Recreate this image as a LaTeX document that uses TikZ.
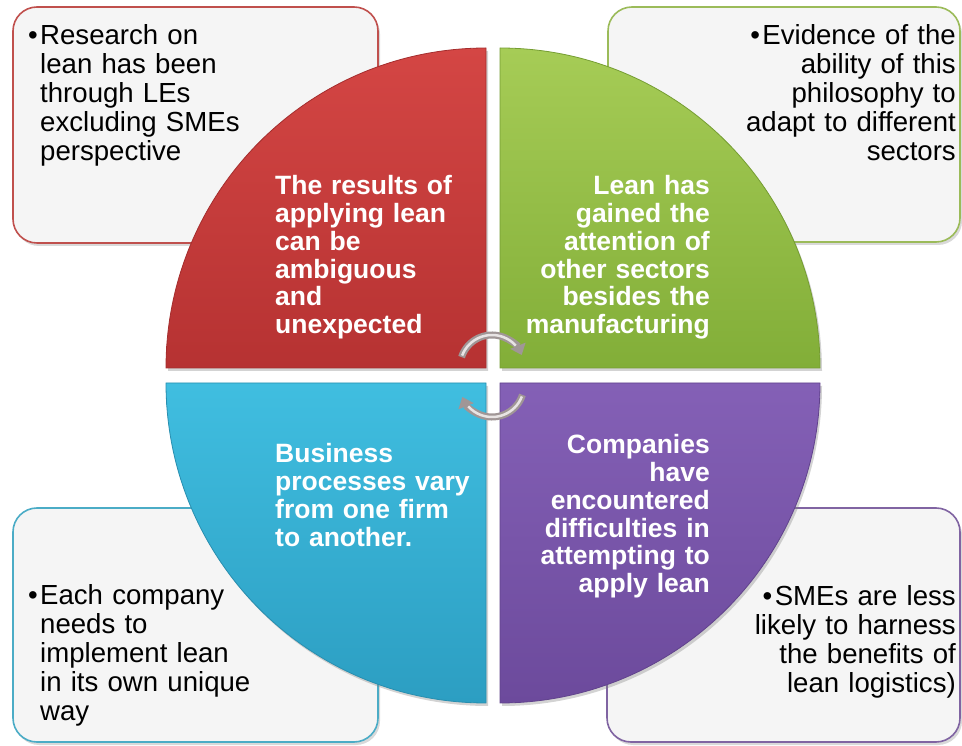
\documentclass[tikz,border=0pt]{standalone}
\usepackage{fontspec}
\setmainfont{Liberation Sans}
\usetikzlibrary{arrows.meta,shadows}

% palette
\definecolor{redTop}{RGB}{212,70,68}
\definecolor{redBot}{RGB}{182,50,50}
\definecolor{redEdge}{RGB}{192,80,77}
\definecolor{grnTop}{RGB}{166,204,86}
\definecolor{grnBot}{RGB}{130,174,56}
\definecolor{grnEdge}{RGB}{155,187,89}
\definecolor{bluTop}{RGB}{64,190,224}
\definecolor{bluBot}{RGB}{44,158,194}
\definecolor{bluEdge}{RGB}{75,172,198}
\definecolor{purTop}{RGB}{132,96,182}
\definecolor{purBot}{RGB}{108,74,156}
\definecolor{purEdge}{RGB}{128,100,162}
\definecolor{boxFill}{RGB}{245,245,245}
\definecolor{arrowDark}{RGB}{160,150,150}
\definecolor{arrowLight}{RGB}{232,228,228}

\tikzset{
  notebox/.style={fill=boxFill, line width=1.6pt, rounded corners=24pt,
    drop shadow={shadow xshift=2pt, shadow yshift=-3pt, opacity=.3}},
  quarter/.style={line width=0.8pt,
    drop shadow={shadow xshift=2pt, shadow yshift=-3pt, opacity=.35}},
  notetext/.style={inner sep=0pt, text width=340pt,
    font=\fontsize{27.6}{29}\selectfont},
  quartertext/.style={inner sep=0pt, text width=240pt, text=white,
    font=\fontsize{26.5}{27.7}\selectfont\bfseries},
  cyclearrow/.style={line width=7pt, draw=arrowDark,
    -{Triangle[width=16pt,length=10pt]}},
  cyclelight/.style={line width=2.5pt, draw=arrowLight}
}

\begin{document}
\begin{tikzpicture}[x=1pt,y=1pt]
  \useasboundingbox (0,0) rectangle (962,745);

  % outer note boxes
  \path[notebox, draw=redEdge] (13,502) rectangle (378,738);
  \path[notebox, draw=grnEdge] (608,503) rectangle (960,738);
  \path[notebox, draw=bluEdge] (13,3) rectangle (378,237);
  \path[notebox, draw=purEdge] (607,3) rectangle (960,237);

  % four quarters of the central disc
  \path[quarter, draw=redBot!90!black, top color=redTop, bottom color=redBot]
    (486,377) -- ++(-320,0) arc[start angle=180, end angle=90, radius=320] -- cycle;
  \path[quarter, draw=grnBot!90!black, top color=grnTop, bottom color=grnBot]
    (500,377) -- ++(0,320) arc[start angle=90, end angle=0, radius=320] -- cycle;
  \path[quarter, draw=bluBot!90!black, top color=bluTop, bottom color=bluBot]
    (486,362) -- ++(-320,0) arc[start angle=180, end angle=270, radius=320] -- cycle;
  \path[quarter, draw=purBot!90!black, top color=purTop, bottom color=purBot]
    (500,362) -- ++(320,0) arc[start angle=0, end angle=-90, radius=320] -- cycle;

  % circular arrows at the centre
  \coordinate (topc) at (492,378);
  \coordinate (botc) at (492,360);
  \draw[cyclearrow] ([shift={(162:32)}]topc) arc[start angle=162, end angle=22, radius=32];
  \draw[cyclelight] ([shift={(159:32)}]topc) arc[start angle=159, end angle=42, radius=32];
  \draw[cyclearrow] ([shift={(-18:32)}]botc) arc[start angle=-18, end angle=-158, radius=32];
  \draw[cyclelight] ([shift={(-21:32)}]botc) arc[start angle=-21, end angle=-138, radius=32];

  % note texts
  \node[notetext, align=left, anchor=base west] (tlnote) at (40,700)
    {\llap{•\hspace{2.5pt}}Research on\\lean has been\\through LEs\\excluding SMEs\\perspective};
  \node[notetext, align=right, anchor=base east] (trnote) at (956,700)
    {•\hspace{2.5pt}Evidence of the\\ability of this\\philosophy to\\adapt to different\\sectors};
  \node[notetext, align=left, anchor=base west] (blnote) at (40,140)
    {\llap{•\hspace{2.5pt}}Each company\\needs to\\implement lean\\in its own unique\\way};
  \node[notetext, align=right, anchor=base east] (brnote) at (956,139)
    {•\hspace{2.5pt}SMEs are less\\likely to harness\\the benefits of\\lean logistics)};

  % quarter texts
  \node[quartertext, align=left, anchor=base west] (redtext) at (275,550)
    {The results of\\applying lean\\can be\\ambiguous\\and\\unexpected};
  \node[quartertext, align=right, anchor=base east] (grntext) at (710,550)
    {Lean has\\gained the\\attention of\\other sectors\\besides the\\manufacturing};
  \node[quartertext, align=left, anchor=base west] (blutext) at (275,282)
    {Business\\processes vary\\from one firm\\to another.};
  \node[quartertext, align=right, anchor=base east] (purtext) at (710,291)
    {Companies\\have\\encountered\\difficulties in\\attempting to\\apply lean};
\end{tikzpicture}
\end{document}
